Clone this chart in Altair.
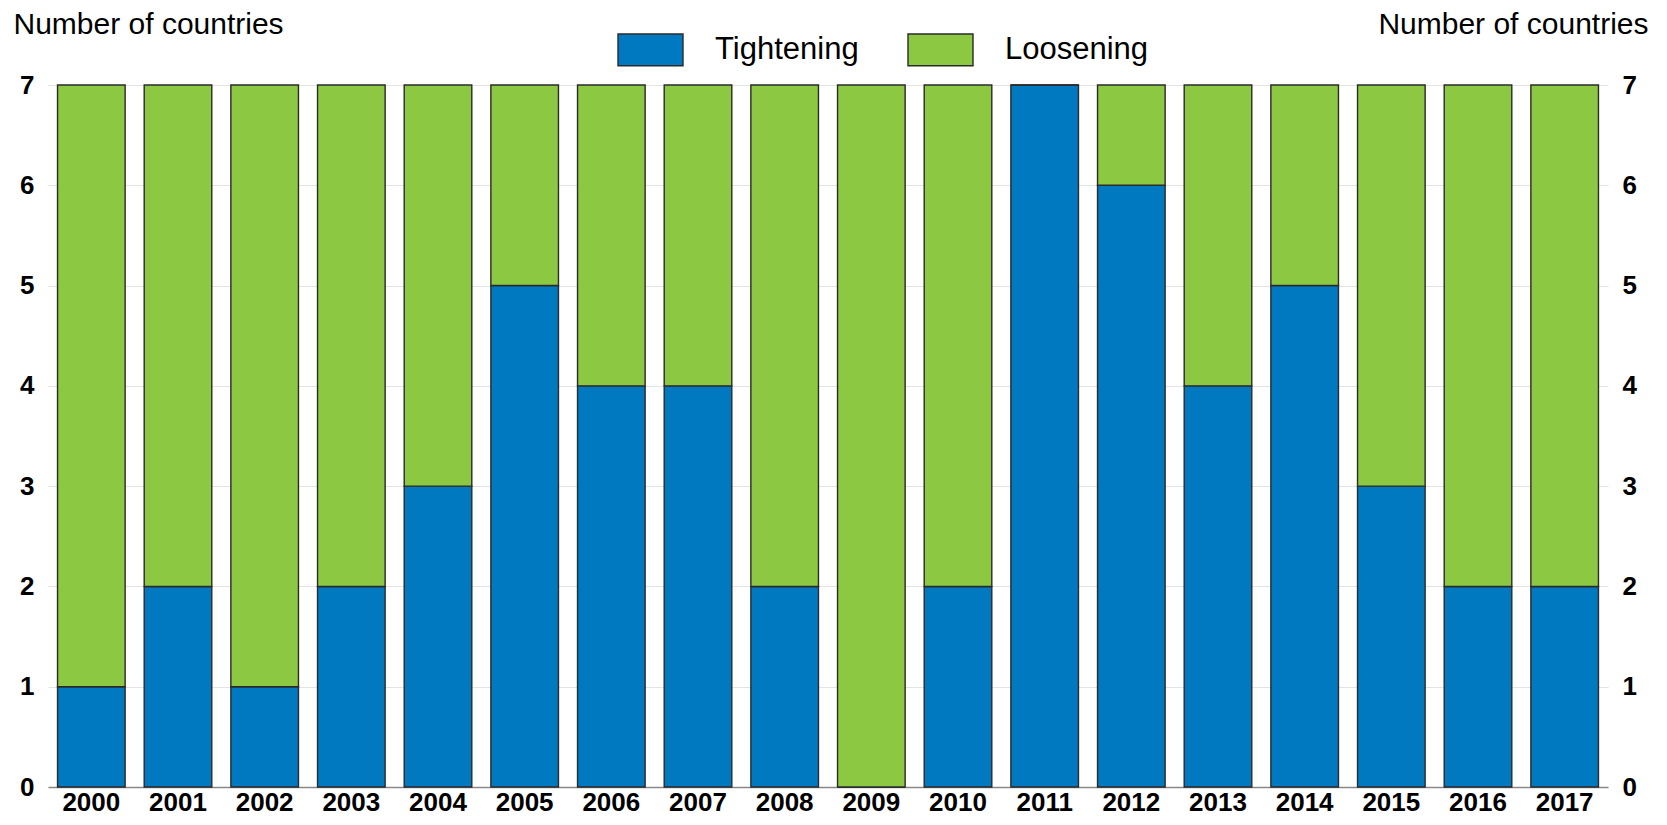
import altair as alt
import pandas as pd

years = [str(y) for y in range(2000, 2018)]
tightening = [1, 2, 1, 2, 3, 5, 4, 4, 2, 0, 2, 7, 6, 4, 5, 3, 2, 2]
loosening = [6, 5, 6, 5, 4, 2, 3, 3, 5, 7, 5, 0, 1, 3, 2, 4, 5, 5]
series = ["Tightening", "Loosening"]
colors = ["#0179C0", "#8CC841"]
y_ticks = [0, 1, 2, 3, 4, 5, 6, 7]

rows = []
for i, y in enumerate(years):
    rows.append({"year": y, "series": "Tightening", "value": tightening[i], "ord": 0})
    rows.append({"year": y, "series": "Loosening", "value": loosening[i], "ord": 1})
df = pd.DataFrame(rows)

FONT = "Liberation Sans"

base = alt.Chart(df)

bars = base.mark_bar(stroke="#2a2a2a", strokeWidth=1.4).encode(
    x=alt.X("year:N", sort=years,
            scale=alt.Scale(paddingInner=0.22, paddingOuter=0.11),
            axis=alt.Axis(title=None, labelAngle=0, labelFont=FONT, labelFontSize=26,
                          labelFontWeight="bold", labelColor="#000000", labelPadding=2,
                          ticks=False, domainColor="#888888", domainWidth=1.5, grid=False)),
    y=alt.Y("value:Q", stack="zero",
            scale=alt.Scale(domain=[0, 7], nice=False),
            axis=alt.Axis(title="Number of countries", values=y_ticks, orient="left",
                          labelFont=FONT, labelFontSize=26, labelFontWeight="bold",
                          labelColor="#000000", labelPadding=14, ticks=False, domain=False,
                          gridColor="#e3e3e3", gridWidth=1.2,
                          titleAngle=0, titleX=-35, titleY=-52, titleAlign="left",
                          titleBaseline="alphabetic", titleFont=FONT, titleFontSize=30,
                          titleFontWeight="normal", titleColor="#000000")),
    color=alt.Color("series:N", scale=alt.Scale(domain=series, range=colors),
                    legend=alt.Legend(title=None, orient="none", direction="horizontal",
                                      legendX=569, legendY=-69,
                                      symbolType="M-1,-0.49H1V0.49H-1Z", symbolSize=4225,
                                      symbolStrokeColor="#2a2a2a", symbolStrokeWidth=1.4,
                                      symbolOpacity=1,
                                      labelFont=FONT, labelFontSize=31, labelColor="#000000",
                                      labelOffset=31, columnPadding=46)),
    order=alt.Order("ord:Q", sort="ascending"),
)

right_axis = base.mark_bar(opacity=0).encode(
    x=alt.X("year:N", sort=years),
    y=alt.Y("value:Q", stack="zero",
            scale=alt.Scale(domain=[0, 7], nice=False),
            axis=alt.Axis(title="Number of countries", values=y_ticks, orient="right",
                          labelFont=FONT, labelFontSize=26, labelFontWeight="bold",
                          labelColor="#000000", labelPadding=14, ticks=False, domain=False,
                          grid=False,
                          titleAngle=0, titleX=40, titleY=-52, titleAlign="right",
                          titleBaseline="alphabetic", titleFont=FONT, titleFontSize=30,
                          titleFontWeight="normal", titleColor="#000000")),
)

chart = alt.layer(bars, right_axis).resolve_scale(y="independent").properties(
    width=1560, height=702,
    autosize=alt.AutoSizeParams(type="none"),
    padding={"left": 40, "top": 77, "right": 51, "bottom": 30},
).configure_view(stroke=None)

chart.save("out.html", embed_options={"renderer": "svg", "actions": False})
